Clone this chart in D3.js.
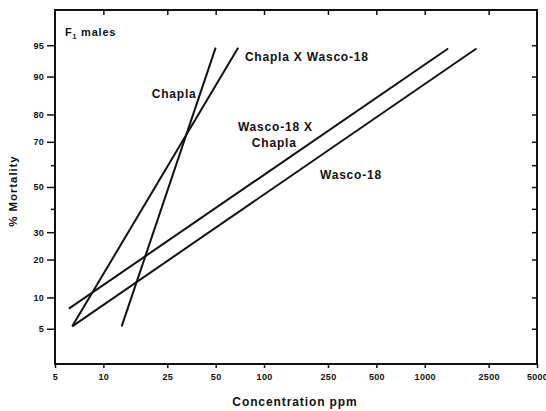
<!DOCTYPE html>
<html>
<head>
<meta charset="utf-8">
<script src="https://cdn.jsdelivr.net/npm/d3@7"></script>
<style>
  body { margin: 0; background: #fff; }
  text { font-family: "Liberation Sans", Arial, sans-serif; font-weight: bold; fill: #111; }
</style>
</head>
<body>
<div id="container"></div>
<script>
// concentration ticks (ppm, log) and mortality ticks (%, probit)
let xTicks = [5, 10, 25, 50, 100, 250, 500, 1000, 2500, 5000]
let yTicks = [5, 10, 20, 30, 50, 70, 80, 90, 95]
let yMinor = [40, 60]

// regression lines, [ppm, % mortality] at each end
let chapla = [[13, 5.3], [50, 94.7]]
let chaplaXwasco = [[6.4, 5.3], [69, 94.7]]
let wascoXchapla = [[6.1, 7.9], [1400, 94.6]]
let wasco = [[6.4, 5.3], [2100, 94.6]]

// line labels: [text, ppm, %] (start of the text, baseline)
let labels = [
  ['Chapla', 20, 84.9],
  ['Chapla X Wasco-18', 76, 92.8],
  ['Wasco-18 X', 68.8, 74.2],
  ['Chapla', 84, 67.9],
  ['Wasco-18', 223, 53.7]
]

let width = 546,
  height = 411,
  frame = { left: 55, right: 537, top: 10, bottom: 364 }

let svg = d3.select('#container')
  .append('svg')
  .attr('width', width)
  .attr('height', height)

// inverse normal cdf (Acklam) for the probit axis
function probit(p) {
  let a = [-39.69683028665376, 220.9460984245205, -275.9285104469687, 138.3577518672690, -30.66479806614716, 2.506628277459239],
    b = [-54.47609879822406, 161.5858368580409, -155.6989798598866, 66.80131188771972, -13.28068155288572],
    c = [-0.007784894002430293, -0.3223964580411365, -2.400758277161838, -2.549732539343734, 4.374664141464968, 2.938163982698783],
    d = [0.007784695709041462, 0.3224671290700398, 2.445134137142996, 3.754408661907416]
  let q, r
  if (p < 0.02425) {
    q = Math.sqrt(-2 * Math.log(p))
    return (((((c[0]*q+c[1])*q+c[2])*q+c[3])*q+c[4])*q+c[5]) / ((((d[0]*q+d[1])*q+d[2])*q+d[3])*q+1)
  }
  if (p > 1 - 0.02425) {
    q = Math.sqrt(-2 * Math.log(1 - p))
    return -(((((c[0]*q+c[1])*q+c[2])*q+c[3])*q+c[4])*q+c[5]) / ((((d[0]*q+d[1])*q+d[2])*q+d[3])*q+1)
  }
  q = p - 0.5
  r = q * q
  return (((((a[0]*r+a[1])*r+a[2])*r+a[3])*r+a[4])*r+a[5])*q / (((((b[0]*r+b[1])*r+b[2])*r+b[3])*r+b[4])*r+1)
}

let scale_x = d3.scaleLog()
  .domain([5, 5000])
  .range([frame.left, frame.right])

let scale_z = d3.scaleLinear()
  .domain([probit(0.02), probit(0.98)])
  .range([frame.bottom, frame.top])

let scale_y = function (pct) {
  return scale_z(probit(pct / 100))
}

let fmt = d => String(d)

// bottom axis
let x_axis = d3.axisBottom(scale_x).tickValues(xTicks).tickFormat(fmt).tickSize(4).tickPadding(6)
let gx = svg.append('g')
  .attr('transform', 'translate(0,' + frame.bottom + ')')
  .call(x_axis)
gx.select('.domain').remove()
gx.selectAll('line').attr('stroke', '#111').attr('stroke-width', 1.5)
gx.selectAll('text').attr('font-size', 9).attr('letter-spacing', 0.3)
  .style('font-family', '"Liberation Sans", Arial, sans-serif').style('font-weight', 'bold').attr('fill', '#111')

// top axis, ticks inside
let x_top = d3.axisTop(scale_x).tickValues(xTicks.slice(1, -1)).tickFormat('').tickSize(-5)
let gxt = svg.append('g')
  .attr('transform', 'translate(0,' + frame.top + ')')
  .call(x_top)
gxt.select('.domain').remove()
gxt.selectAll('line').attr('stroke', '#111').attr('stroke-width', 1.5)

// left axis
let y_axis = d3.axisLeft(scale_z)
  .tickValues(yTicks.map(v => probit(v / 100)))
  .tickFormat((d, i) => yTicks[i])
  .tickSize(8).tickPadding(3)
let gy = svg.append('g')
  .attr('transform', 'translate(' + frame.left + ',0)')
  .call(y_axis)
gy.select('.domain').remove()
gy.selectAll('line').attr('stroke', '#111').attr('stroke-width', 1.5)
gy.selectAll('text').attr('font-size', 9).attr('letter-spacing', 0.3)
  .style('font-family', '"Liberation Sans", Arial, sans-serif').style('font-weight', 'bold').attr('fill', '#111')

let y_minor = d3.axisLeft(scale_z)
  .tickValues(yMinor.map(v => probit(v / 100)))
  .tickFormat('').tickSize(4)
let gym = svg.append('g')
  .attr('transform', 'translate(' + frame.left + ',0)')
  .call(y_minor)
gym.select('.domain').remove()
gym.selectAll('line').attr('stroke', '#111').attr('stroke-width', 1.5)

// right axis, ticks inside
let y_right = d3.axisRight(scale_z)
  .tickValues(yTicks.concat(yMinor).map(v => probit(v / 100)))
  .tickFormat('').tickSize(-5)
let gyr = svg.append('g')
  .attr('transform', 'translate(' + frame.right + ',0)')
  .call(y_right)
gyr.select('.domain').remove()
gyr.selectAll('line').attr('stroke', '#111').attr('stroke-width', 1.5)

// frame
svg.append('rect')
  .attr('x', frame.left)
  .attr('y', frame.top)
  .attr('width', frame.right - frame.left)
  .attr('height', frame.bottom - frame.top)
  .attr('fill', 'none')
  .attr('stroke', '#111')
  .attr('stroke-width', 2)

// lines
let line_generator = d3.line()
  .x(d => scale_x(d[0]))
  .y(d => scale_y(d[1]))

let g = svg.append('g')
g.selectAll('path')
  .data([chapla, chaplaXwasco, wascoXchapla, wasco])
  .enter().append('path')
  .attr('d', d => line_generator(d))
  .attr('fill', 'none')
  .attr('stroke', '#111')
  .attr('stroke-width', 2)

g.selectAll('text.lab')
  .data(labels)
  .enter().append('text')
  .attr('class', 'lab')
  .attr('x', d => scale_x(d[1]))
  .attr('y', d => scale_y(d[2]))
  .attr('font-size', 12)
  .attr('letter-spacing', 0.8)
  .text(d => d[0])

// panel title
let title = svg.append('text')
  .attr('x', frame.left + 10)
  .attr('y', frame.top + 26)
  .attr('font-size', 11)
  .attr('letter-spacing', 0.8)
title.append('tspan').text('F')
title.append('tspan').attr('font-size', 7).attr('dy', 3).text('1')
title.append('tspan').attr('dy', -3).text(' males')

// axis titles
svg.append('text')
  .attr('x', 295)
  .attr('y', 406)
  .attr('text-anchor', 'middle')
  .attr('font-size', 12)
  .attr('letter-spacing', 0.9)
  .text('Concentration ppm')

svg.append('text')
  .attr('transform', 'translate(17,191) rotate(-90)')
  .attr('text-anchor', 'middle')
  .attr('font-size', 11.5)
  .attr('letter-spacing', 0.9)
  .text('% Mortality')
</script>
</body>
</html>
